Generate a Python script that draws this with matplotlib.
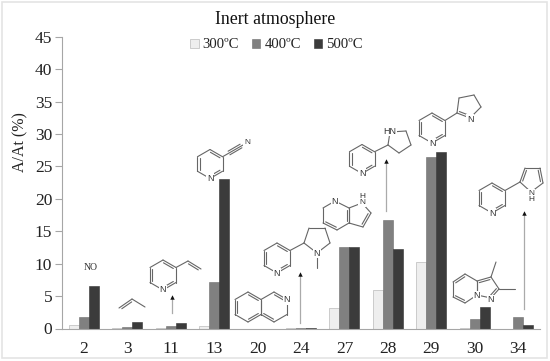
import numpy as np
import matplotlib
matplotlib.use("Agg")
import matplotlib.pyplot as plt
from matplotlib.patches import Rectangle

plt.rcParams['font.family'] = ['Liberation Serif', 'DejaVu Serif']

compounds = ['2', '3', '11', '13', '20', '24', '27', '28', '29', '30', '34']
t300 = [0.5, 0.05, 0.15, 0.35, 0, 0.05, 3.2, 5.9, 10.2, 0.05, 0]
t400 = [1.8, 0.25, 0.4, 7.2, 0, 0.15, 12.6, 16.8, 26.4, 1.5, 1.7]
t500 = [6.6, 0.95, 0.9, 23.0, 0, 0.15, 12.6, 12.2, 27.2, 3.3, 0.55]
y_ticks = [0, 5, 10, 15, 20, 25, 30, 35, 40, 45]

W, H = 550, 361
AXC = '#a6a6a6'
MOL = '#666666'

fig = plt.figure(figsize=(5.5, 3.61), dpi=100)
ax = fig.add_axes([62 / W, 1 - 328.5 / H, (540 - 62) / W, (328.5 - 36.7) / H])

# bars
x = np.arange(len(compounds))
w = 0.23
ax.bar(x - w, t300, w, color='#eeeeee', edgecolor='#c4c4c4', lw=0.6, label='300ºC')
ax.bar(x, t400, w, color='#808080', edgecolor='#6e6e6e', lw=0.4, label='400ºC')
ax.bar(x + w, t500, w, color='#3b3b3b', edgecolor='#333333', lw=0.4, label='500ºC')

ax.set_xlim(-0.5, len(compounds) - 0.5)
ax.set_ylim(0, 45)
ax.set_xticks(x)
ax.set_xticklabels(compounds)
ax.set_yticks(y_ticks)
ax.tick_params(axis='x', length=0, labelsize=12.5, pad=9, colors='#222222')
ax.tick_params(axis='y', length=5, width=0.8, color=AXC, labelsize=12.5, pad=2, labelcolor='#222222')
ax.spines['top'].set_visible(False)
ax.spines['right'].set_visible(False)
ax.spines['left'].set_color(AXC)
ax.spines['bottom'].set_color(AXC)

fig.text(20 / W, 1 - 142 / H, 'A/At (%)', fontsize=11.5, rotation=90, ha='center', va='center', color='#222222')
fig.text(275 / W, 1 - 20 / H, 'Inert atmosphere', fontsize=12.8, ha='center', va='center', color='#111111')
fig.legend(loc='center', bbox_to_anchor=(276.5 / W, 1 - 45 / H), ncols=3, frameon=False,
           fontsize=10.6, handlelength=0.55, handleheight=0.55, handletextpad=0.28,
           columnspacing=0.88, borderpad=0, labelcolor='#222222')

# overlay in pixel coordinates for the drawn molecules and arrows
ov = fig.add_axes([0, 0, 1, 1], facecolor='none')
ov.set_xlim(0, W)
ov.set_ylim(H, 0)
ov.axis('off')
ov.add_patch(Rectangle((2, 2), W - 5, H - 5, fill=False, ec='#e4e4e4', lw=1.2))


def bond(p, q, double=False, inner=None):
    p, q = np.array(p, float), np.array(q, float)
    ov.plot([p[0], q[0]], [p[1], q[1]], color=MOL, lw=0.8, solid_capstyle='round')
    if double:
        d = q - p
        n = np.array([-d[1], d[0]]) / np.hypot(*d)
        if inner is not None and np.dot(np.array(inner) - p, n) < 0:
            n = -n
        a, b = p + d * 0.12 + n * 2.2, q - d * 0.12 + n * 2.2
        ov.plot([a[0], b[0]], [a[1], b[1]], color=MOL, lw=0.8, solid_capstyle='round')


def ring(pts, doubles=()):
    c = np.mean(pts, axis=0)
    for i in range(len(pts)):
        bond(pts[i], pts[(i + 1) % len(pts)], i in doubles, c)


def hexagon(cx, cy, r=15):
    ang = np.radians(np.arange(-90, 270, 60))
    return [(cx + r * np.cos(a), cy + r * np.sin(a)) for a in ang]


def atom(px, py, s, fs=6.5):
    ov.text(px, py, s, fontsize=fs, ha='center', va='center', color='#333333',
            family='Liberation Sans', linespacing=0.95, bbox=dict(fc='white', ec='none', pad=0.4))


def arrow(px, y0, y1):
    ov.plot([px, px], [y0, y1], color='#aaaaaa', lw=0.9)
    ov.plot([px], [y1], marker='^', ms=3.2, color='#111111', mec='none')


def pyridine(cx, cy, r=15):
    pts = hexagon(cx, cy, r)
    ring(pts, (0, 2, 4))
    atom(*pts[3], 'N')
    return pts


# 2
ov.text(91, 267, 'NO', fontsize=7, ha='center', va='center', color='#333333')

# 3
bond((119, 308), (132, 299), True, (132, 310))
bond((132, 299), (145, 307))

# 11
p = pyridine(163, 275)
bond(p[1], (188, 261))
bond((188, 261), (201, 269), True, (188, 272))
arrow(172, 313, 297)

# 13
p = pyridine(210, 164, 14.5)
bond(p[1], (243, 145))
for off in (-1.8, 1.8):
    bond((229 + off * 0.5, 153 + off), (241 + off * 0.5, 146 + off))
atom(247, 143, 'N', 6)

# 20
ring(hexagon(248, 307), (0, 2, 4))
p = hexagon(274, 307)
ring(p, (0, 3))
atom(*p[1], 'N')

# 24
p = pyridine(277, 258)
bond(p[1], (304, 243))
ring([(304, 243), (309, 228), (325, 228), (330, 243), (317, 253)])
atom(317, 253, 'N')
bond((317, 257), (317, 268))
arrow(300, 323, 274)

# 27
six = [(323, 208), (335, 201), (349, 208), (349, 223), (337, 230), (323, 223)]
ring(six, (2, 4))
atom(335, 201, 'N')
five = [(349, 208), (362, 203), (371, 213), (363, 227), (349, 223)]
ring(five, (2,))
atom(362, 199.5, 'H\nN', 6)

# 28
p = pyridine(362, 159, 14.5)
bond(p[1], (388, 145))
ring([(388, 145), (390, 132), (406, 131), (411, 145), (399, 153)])
atom(390, 131, 'HN')
arrow(386, 211, 161)

# 29
p = pyridine(432, 128)
bond(p[1], (457, 113))
ring([(457, 113), (459, 98), (474, 95), (481, 107), (470, 118)], (4,))
atom(470, 119, 'N')

# 30
six = [(453, 282), (465, 274), (477, 281), (477, 295), (465, 303), (453, 297)]
ring(six, (0, 4))
five = [(477, 281), (491, 277), (499, 289), (491, 298), (477, 295)]
ring(five, (0, 2))
atom(477, 296, 'N')
atom(491, 300, 'N')
bond((491, 277), (496, 262))
bond((499, 289), (515, 289))

# 34
p = pyridine(492, 198)
bond(p[1], (520, 182))
ring([(520, 182), (525, 168), (540, 168), (543, 183), (531, 192)], (0, 2))
atom(531, 196.5, 'N\nH', 6)
arrow(524, 309, 213)

fig.savefig('out.png', dpi=100)
